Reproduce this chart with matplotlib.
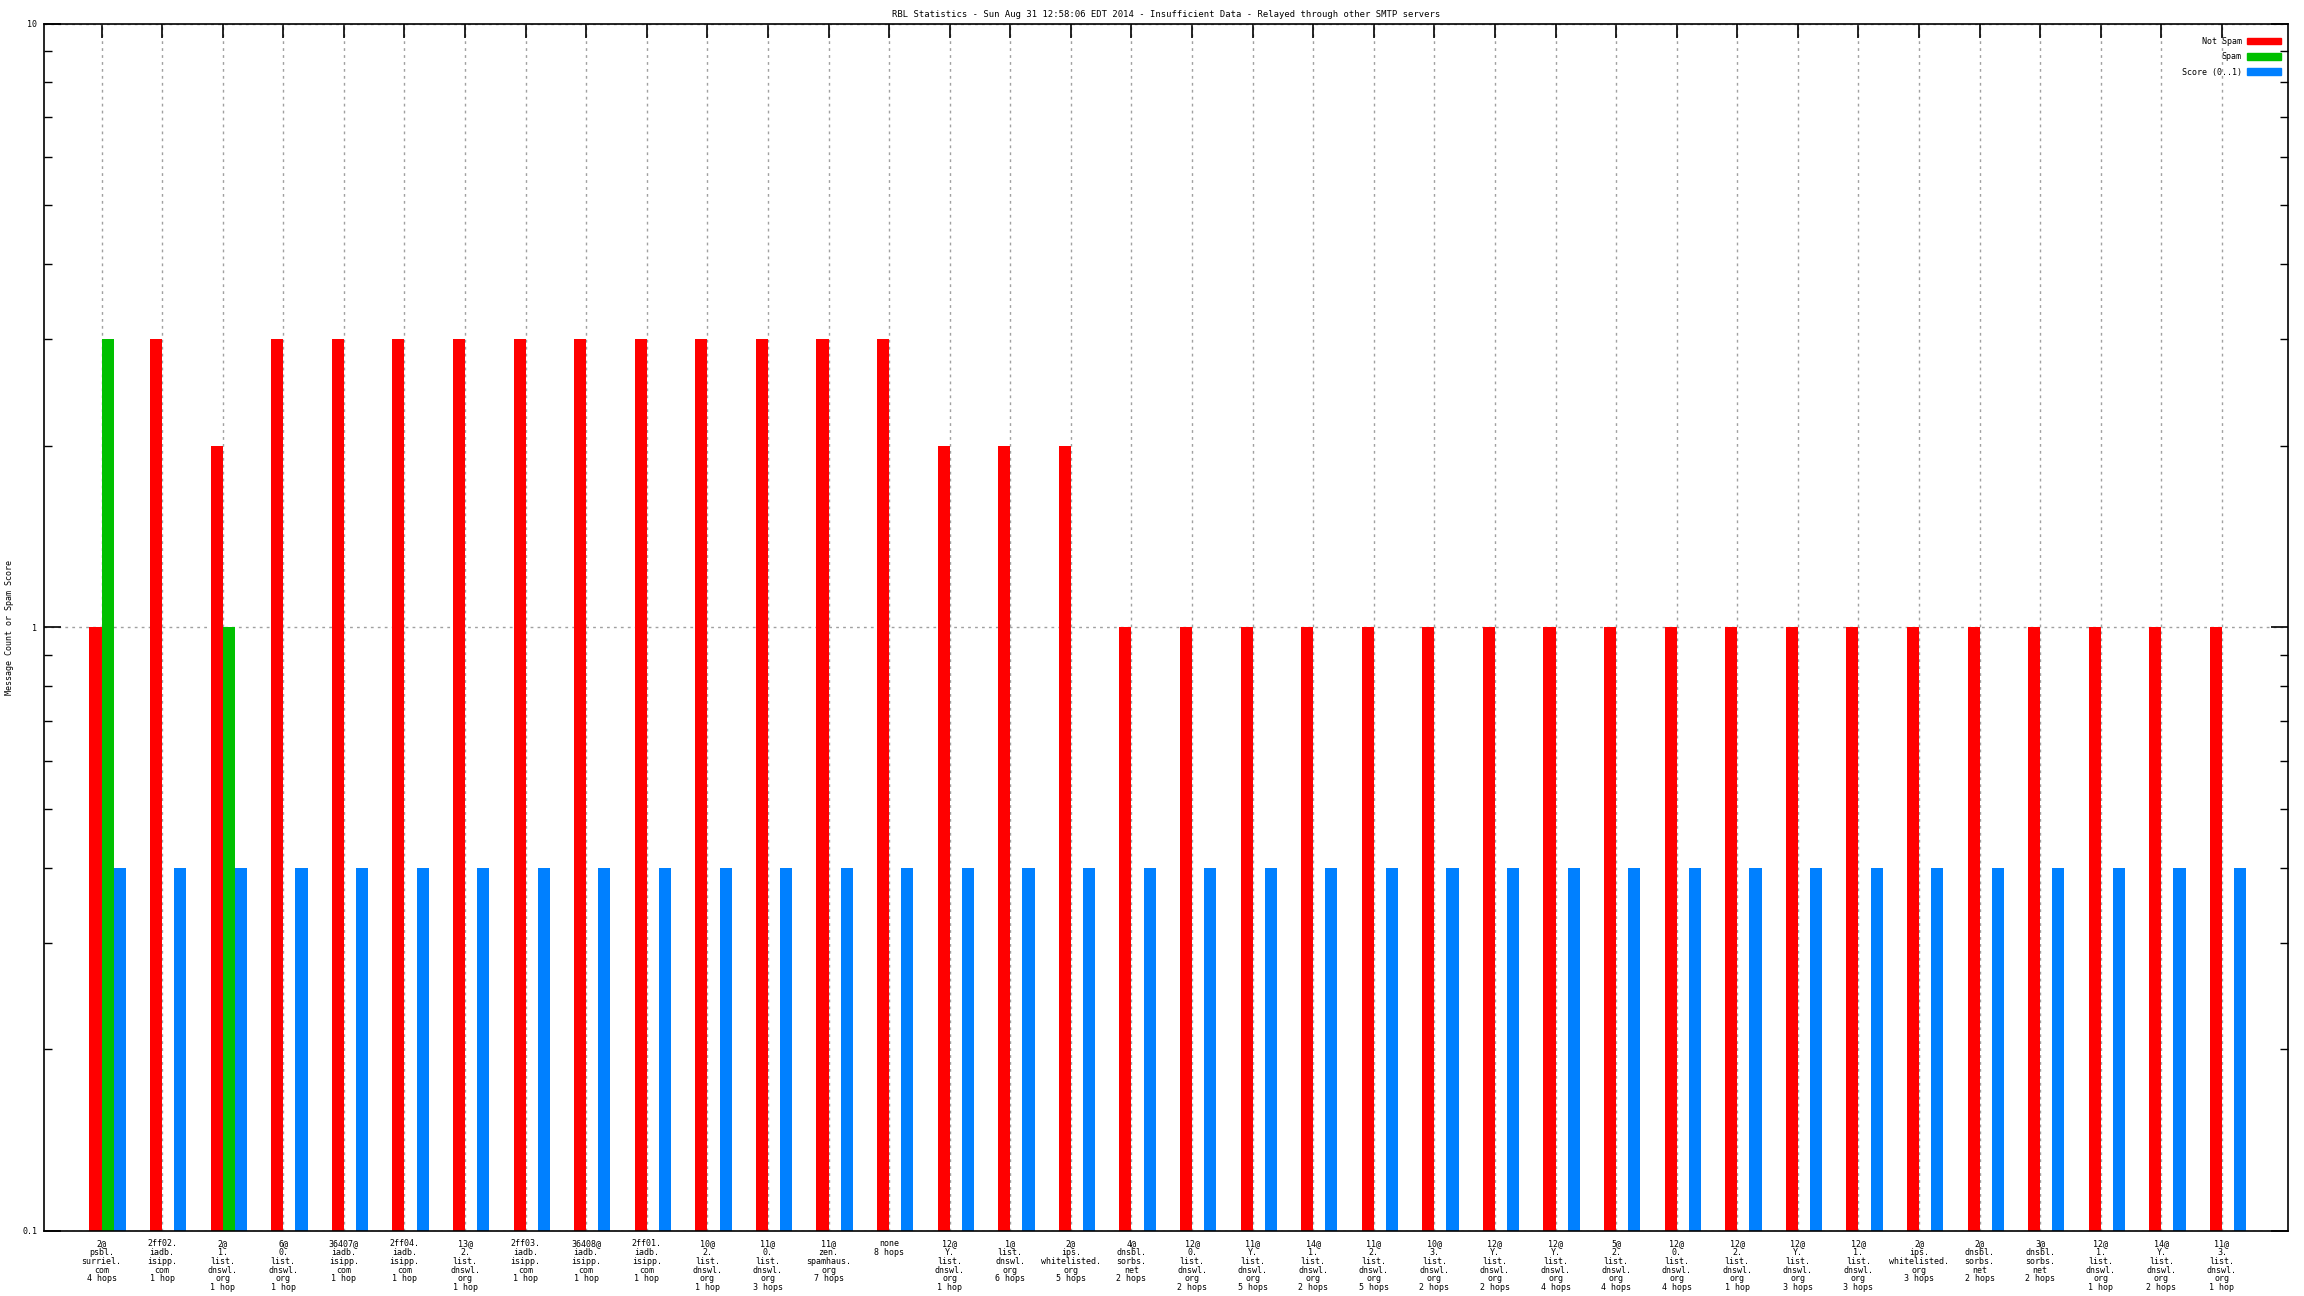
import numpy as np
import matplotlib
matplotlib.use('Agg')
import matplotlib.pyplot as plt
from matplotlib.patches import Patch

# RBL statistics, one group of bars per RBL answer
labels = [
    '2@\npsbl.\nsurriel.\ncom\n4 hops',
    '2ff02.\niadb.\nisipp.\ncom\n1 hop',
    '2@\n1.\nlist.\ndnswl.\norg\n1 hop',
    '6@\n0.\nlist.\ndnswl.\norg\n1 hop',
    '36407@\niadb.\nisipp.\ncom\n1 hop',
    '2ff04.\niadb.\nisipp.\ncom\n1 hop',
    '13@\n2.\nlist.\ndnswl.\norg\n1 hop',
    '2ff03.\niadb.\nisipp.\ncom\n1 hop',
    '36408@\niadb.\nisipp.\ncom\n1 hop',
    '2ff01.\niadb.\nisipp.\ncom\n1 hop',
    '10@\n2.\nlist.\ndnswl.\norg\n1 hop',
    '11@\n0.\nlist.\ndnswl.\norg\n3 hops',
    '11@\nzen.\nspamhaus.\norg\n7 hops',
    'none\n8 hops',
    '12@\nY.\nlist.\ndnswl.\norg\n1 hop',
    '1@\nlist.\ndnswl.\norg\n6 hops',
    '2@\nips.\nwhitelisted.\norg\n5 hops',
    '4@\ndnsbl.\nsorbs.\nnet\n2 hops',
    '12@\n0.\nlist.\ndnswl.\norg\n2 hops',
    '11@\nY.\nlist.\ndnswl.\norg\n5 hops',
    '14@\n1.\nlist.\ndnswl.\norg\n2 hops',
    '11@\n2.\nlist.\ndnswl.\norg\n5 hops',
    '10@\n3.\nlist.\ndnswl.\norg\n2 hops',
    '12@\nY.\nlist.\ndnswl.\norg\n2 hops',
    '12@\nY.\nlist.\ndnswl.\norg\n4 hops',
    '5@\n2.\nlist.\ndnswl.\norg\n4 hops',
    '12@\n0.\nlist.\ndnswl.\norg\n4 hops',
    '12@\n2.\nlist.\ndnswl.\norg\n1 hop',
    '12@\nY.\nlist.\ndnswl.\norg\n3 hops',
    '12@\n1.\nlist.\ndnswl.\norg\n3 hops',
    '2@\nips.\nwhitelisted.\norg\n3 hops',
    '2@\ndnsbl.\nsorbs.\nnet\n2 hops',
    '3@\ndnsbl.\nsorbs.\nnet\n2 hops',
    '12@\n1.\nlist.\ndnswl.\norg\n1 hop',
    '14@\nY.\nlist.\ndnswl.\norg\n2 hops',
    '11@\n3.\nlist.\ndnswl.\norg\n1 hop',
]
not_spam = [1, 3, 2, 3, 3, 3, 3, 3, 3, 3, 3, 3, 3, 3, 2, 2, 2,
            1, 1, 1, 1, 1, 1, 1, 1, 1, 1, 1, 1, 1, 1, 1, 1, 1, 1, 1]
spam = [3, 0, 1, 0, 0, 0, 0, 0, 0, 0, 0, 0, 0, 0, 0, 0, 0,
        0, 0, 0, 0, 0, 0, 0, 0, 0, 0, 0, 0, 0, 0, 0, 0, 0, 0, 0]
score = [0.4] * 36

TITLE = 'RBL Statistics - Sun Aug 31 12:58:06 EDT 2014 - Insufficient Data - Relayed through other SMTP servers'
FONT = 'DejaVu Sans Mono'
RED, GREEN, BLUE = '#ff0000', '#00c000', '#0080ff'
YMIN = 0.1

fig = plt.figure(figsize=(23.04, 12.96), dpi=100)
ax = fig.add_axes([44/2304, 1 - 1231/1296, (2288-44)/2304, (1231-23.5)/1296])

x = np.arange(len(labels))
W = 0.2

def draw_bars(vals, offset, color):
    v = np.array(vals, dtype=float)
    keep = v > 0
    # bars start at the bottom of the log axis
    ax.bar(x[keep] + offset, v[keep] - YMIN, W, bottom=YMIN, color=color,
           align='edge', zorder=2)

draw_bars(not_spam, -W, RED)
draw_bars(spam, 0.0, GREEN)
draw_bars(score, W, BLUE)

ax.set_yscale('log')
ax.set_ylim(YMIN, 10)
ax.set_xlim(-0.95, 36.09)
ax.set_xticks(x)
ax.set_xticklabels(labels, fontsize=6, family=FONT, linespacing=0.97)
ax.set_yticks([0.1, 1, 10])
ax.set_yticklabels(['0.1', '1', '10'], fontsize=6, family=FONT)
ax.yaxis.set_minor_locator(matplotlib.ticker.LogLocator(subs=np.arange(2, 10)))
ax.yaxis.set_minor_formatter(matplotlib.ticker.NullFormatter())

ax.tick_params(axis='x', which='both', direction='in', top=True, bottom=False,
               length=10, width=1.2, pad=6)
ax.tick_params(axis='y', which='major', direction='in', left=True, right=True,
               length=12, width=1.2, pad=5)
ax.tick_params(axis='y', which='minor', direction='in', left=True, right=True,
               length=6, width=1)

# dotted grid behind the bars
ax.set_axisbelow(True)
ax.grid(True, axis='x', which='major', color='#a0a0a0', linestyle=(0, (2, 3)), linewidth=1)
ax.grid(True, axis='y', which='major', color='#a0a0a0', linestyle=(0, (2, 3)), linewidth=1)
for s in ax.spines.values():
    s.set_linewidth(1.2)

ax.set_ylabel('Message Count or Spam Score', fontsize=6, family=FONT)
ax.yaxis.set_label_coords(-0.0135, 0.5)
ax.set_title(TITLE, fontsize=6.4, family=FONT, pad=5)

handles = [Patch(color=RED, label='Not Spam'),
           Patch(color=GREEN, label='Spam'),
           Patch(color=BLUE, label='Score (0..1)')]
ax.legend(handles=handles, loc='upper right', frameon=False, markerfirst=False,
          bbox_to_anchor=(2281/2304, 1 - 37/1296), bbox_transform=fig.transFigure,
          prop={'family': FONT, 'size': 6}, handlelength=4.1, handleheight=0.8,
          labelspacing=0.75, borderaxespad=0, borderpad=0, handletextpad=0.6)

fig.savefig('out.png', dpi=100)
